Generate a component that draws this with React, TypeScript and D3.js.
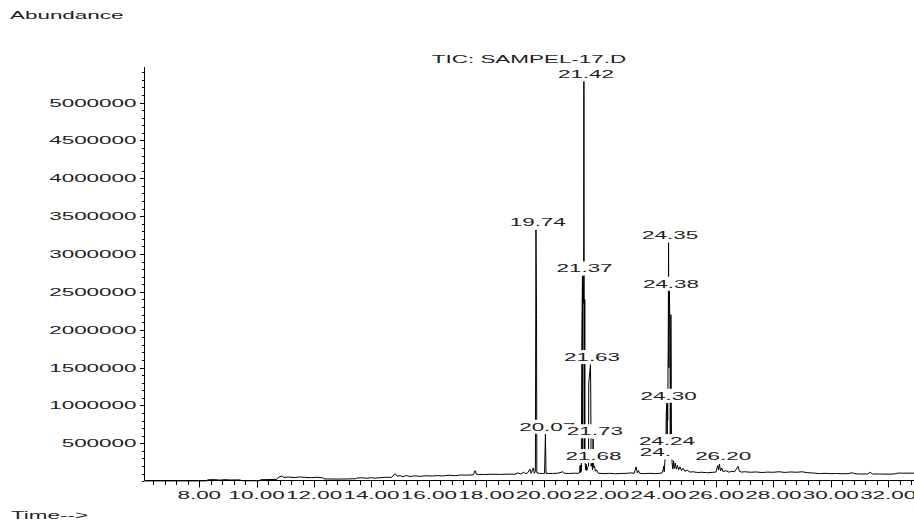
import React from "react";
import * as d3 from "d3";

const W = 914;
const H = 521;

// TIC trace: [retention time (min), abundance (thousands)]
const tracePoints: [number, number][] = [
  [6.11, 4], [8.25, 4], [8.3, 18], [8.5, 22], [8.7, 15], [8.9, 20], [9.1, 16], [9.4, 18], [9.5, 6], [10.1, 6],
  [10.15, 20], [10.5, 22], [10.7, 24], [10.75, 50], [10.87, 68], [10.95, 50], [11.1, 55], [11.3, 48], [11.5, 56], [11.7, 50],
  [11.9, 46], [12.1, 52], [12.3, 45], [12.35, 30], [12.8, 28], [13.2, 30], [13.45, 32], [13.5, 42], [13.7, 45], [13.85, 38],
  [14.0, 48], [14.1, 40], [14.3, 46], [14.5, 52], [14.7, 50], [14.82, 100], [14.9, 66], [15.0, 72], [15.1, 60], [15.2, 75],
  [15.35, 62], [15.5, 70], [15.7, 64], [15.9, 72], [16.1, 68], [16.3, 74], [16.5, 70], [16.7, 80], [16.9, 72], [17.1, 82],
  [17.3, 80], [17.55, 84], [17.61, 140], [17.66, 90], [17.9, 88], [18.2, 92], [18.5, 90], [18.8, 94], [19.0, 92], [19.1, 110],
  [19.2, 95], [19.3, 118], [19.38, 98], [19.45, 115], [19.52, 160], [19.56, 104], [19.64, 175], [19.67, 104], [19.71, 130], [19.73, 3320],
  [19.75, 2200], [19.76, 110], [19.85, 104], [19.95, 100], [20.03, 104], [20.06, 620], [20.08, 104], [20.3, 102], [20.5, 106], [20.67, 125],
  [20.72, 104], [20.9, 102], [21.1, 106], [21.2, 104], [21.25, 110], [21.27, 210], [21.28, 115], [21.3, 215], [21.31, 130], [21.33, 2000],
  [21.35, 2710], [21.36, 400], [21.37, 2600], [21.39, 2350], [21.4, 5280], [21.41, 2500], [21.42, 300], [21.43, 2400], [21.44, 260], [21.46, 150],
  [21.48, 225], [21.5, 140], [21.53, 180], [21.56, 200], [21.57, 1300], [21.63, 1540], [21.64, 1100], [21.65, 200], [21.68, 234], [21.7, 150],
  [21.72, 560], [21.74, 180], [21.77, 200], [21.8, 130], [21.84, 150], [21.9, 106], [22.1, 100], [22.3, 104], [22.5, 98], [22.7, 102],
  [22.9, 104], [23.05, 110], [23.15, 104], [23.22, 190], [23.26, 110], [23.3, 140], [23.34, 104], [23.5, 100], [23.7, 104], [23.9, 100],
  [24.05, 104], [24.12, 110], [24.15, 135], [24.18, 200], [24.2, 125], [24.22, 250], [24.24, 430], [24.25, 300], [24.27, 900], [24.29, 1030],
  [24.3, 400], [24.31, 1000], [24.32, 800], [24.34, 2000], [24.35, 3150], [24.36, 1500], [24.37, 2400], [24.38, 2510], [24.4, 1900], [24.41, 600],
  [24.43, 2200], [24.44, 1700], [24.45, 600], [24.47, 250], [24.5, 160], [24.52, 270], [24.55, 170], [24.58, 240], [24.62, 160], [24.66, 210],
  [24.7, 150], [24.75, 190], [24.8, 140], [24.85, 170], [24.92, 130], [25.0, 145], [25.1, 120], [25.2, 125], [25.35, 115], [25.5, 118],
  [25.7, 112], [25.9, 118], [26.0, 120], [26.06, 205], [26.09, 150], [26.12, 225], [26.16, 135], [26.2, 175], [26.25, 125], [26.35, 140],
  [26.45, 120], [26.55, 130], [26.65, 125], [26.77, 195], [26.82, 130], [26.9, 120], [27.0, 125], [27.2, 118], [27.4, 122], [27.6, 115],
  [27.8, 120], [28.0, 118], [28.2, 125], [28.4, 116], [28.6, 122], [28.8, 118], [29.0, 124], [29.2, 112], [29.4, 108], [29.6, 100],
  [29.8, 104], [30.0, 100], [30.2, 102], [30.4, 98], [30.6, 100], [30.75, 112], [30.85, 98], [31.0, 95], [31.3, 95], [31.37, 120],
  [31.45, 95], [31.7, 95], [32.0, 93], [32.2, 95], [32.35, 108], [32.5, 106], [32.9, 106],
];

const peakLabels = ["19.74", "20.07", "21.42", "21.37", "21.63", "21.73", "21.68", "24.35", "24.38", "24.30", "24.24", "24.", "26.20"];
const peakTimes = [19.74, 20.07, 21.42, 21.37, 21.63, 21.73, 21.68, 24.35, 24.38, 24.3, 24.24, 24.27, 26.2];
const peakApexK = [3320, 620, 5280, 2710, 1540, 560, 234, 3150, 2510, 1030, 430, 280, 234];

const yTickValues = [500000, 1000000, 1500000, 2000000, 2500000, 3000000, 3500000, 4000000, 4500000, 5000000];
const xTickValues = [8, 10, 12, 14, 16, 18, 20, 22, 24, 26, 28, 30, 32];

const title = "TIC: SAMPEL-17.D";
const yAxisTitle = "Abundance";
const xAxisTitle = "Time-->";

const FONT = "'Liberation Sans', Arial, Helvetica, sans-serif";
const FS = 11.5;
const SX = 1.95;
const TXT = "#1e1e1e";

// approximate natural advance widths (em) for Arial
function naturalWidth(s: string): number {
  let w = 0;
  for (const c of s) {
    if (c === ".") w += 0.278;
    else if (/[0-9]/.test(c)) w += 0.556;
    else w += 0.6;
  }
  return w * FS * SX;
}

function Label({ x, y, anchor, children }: { x: number; y: number; anchor: "start" | "middle" | "end"; children: string }) {
  return (
    <text
      transform={`translate(${x},${y}) scale(${SX},1)`}
      textAnchor={anchor}
      fontSize={FS}
      fontFamily={FONT}
      fill={TXT}
    >
      {children}
    </text>
  );
}

export default function App() {
  const x = d3.scaleLinear().domain([6.11, 32.9]).range([145, 914]);
  const y = d3.scaleLinear().domain([0, 5470000]).range([481.2, 67]);

  const line = d3
    .line<[number, number]>()
    .x((d) => x(d[0]))
    .y((d) => y(d[1] * 1000));

  const xMinor = d3.range(6.4, 32.95, 0.4);
  const yMinor = d3.range(0, 5400001, 100000);

  const axisY = 480.5;
  const axisX = 144.5;

  return (
    <div style={{ position: "absolute", left: 0, top: 0 }}>
      <svg width={W} height={H} style={{ display: "block", background: "#fff" }}>
        <rect x={0} y={0} width={W} height={H} fill="#fff" />
        <Label x={10} y={19} anchor="start">{yAxisTitle}</Label>
        <Label x={529} y={63.3} anchor="middle">{title}</Label>
        <Label x={11} y={519} anchor="start">{xAxisTitle}</Label>

        {/* axes */}
        <line x1={axisX} x2={axisX} y1={67} y2={axisY} stroke="#000" strokeWidth={1} />
        <line x1={axisX} x2={W} y1={axisY} y2={axisY} stroke="#000" strokeWidth={1} />

        {yMinor.map((v) => (
          <line key={"ym" + v} x1={axisX - 2.5} x2={axisX} y1={Math.round(y(v)) + 0.5} y2={Math.round(y(v)) + 0.5} stroke="#000" strokeWidth={1} />
        ))}
        {yTickValues.map((v) => (
          <g key={"yt" + v}>
            <line x1={axisX - 4.5} x2={axisX} y1={Math.round(y(v)) + 0.5} y2={Math.round(y(v)) + 0.5} stroke="#000" strokeWidth={1} />
            <Label x={136.5} y={y(v) + 4} anchor="end">{String(v)}</Label>
          </g>
        ))}

        {xMinor.map((v, i) => (
          <line key={"xm" + i} x1={Math.round(x(v)) + 0.5} x2={Math.round(x(v)) + 0.5} y1={axisY} y2={axisY + 4.5} stroke="#000" strokeWidth={1} />
        ))}
        {xTickValues.map((v) => (
          <g key={"xt" + v}>
            <line x1={Math.round(x(v)) + 0.5} x2={Math.round(x(v)) + 0.5} y1={axisY} y2={axisY + 7} stroke="#000" strokeWidth={1} />
            <Label x={x(v)} y={499} anchor="middle">{v.toFixed(2)}</Label>
          </g>
        ))}

        {/* trace */}
        <path d={line(tracePoints) || ""} fill="none" stroke="#000" strokeWidth={1} strokeLinejoin="miter" />

        {/* peak labels with white boxes */}
        {peakLabels.map((lab, i) => {
          const cx = x(peakTimes[i]) + 1.5;
          const by = y(peakApexK[i] * 1000) - 3.5;
          const w = naturalWidth(lab.length < 5 ? "24.00" : lab);
          const tx = lab.length < 5 ? cx - w / 2 : cx;
          return (
            <g key={"pl" + i}>
              <rect x={cx - w / 2 - 2} y={by - 11} width={w + 4} height={14} fill="#fff" />
              <Label x={tx} y={by} anchor={lab.length < 5 ? "start" : "middle"}>{lab}</Label>
            </g>
          );
        })}
      </svg>
    </div>
  );
}
